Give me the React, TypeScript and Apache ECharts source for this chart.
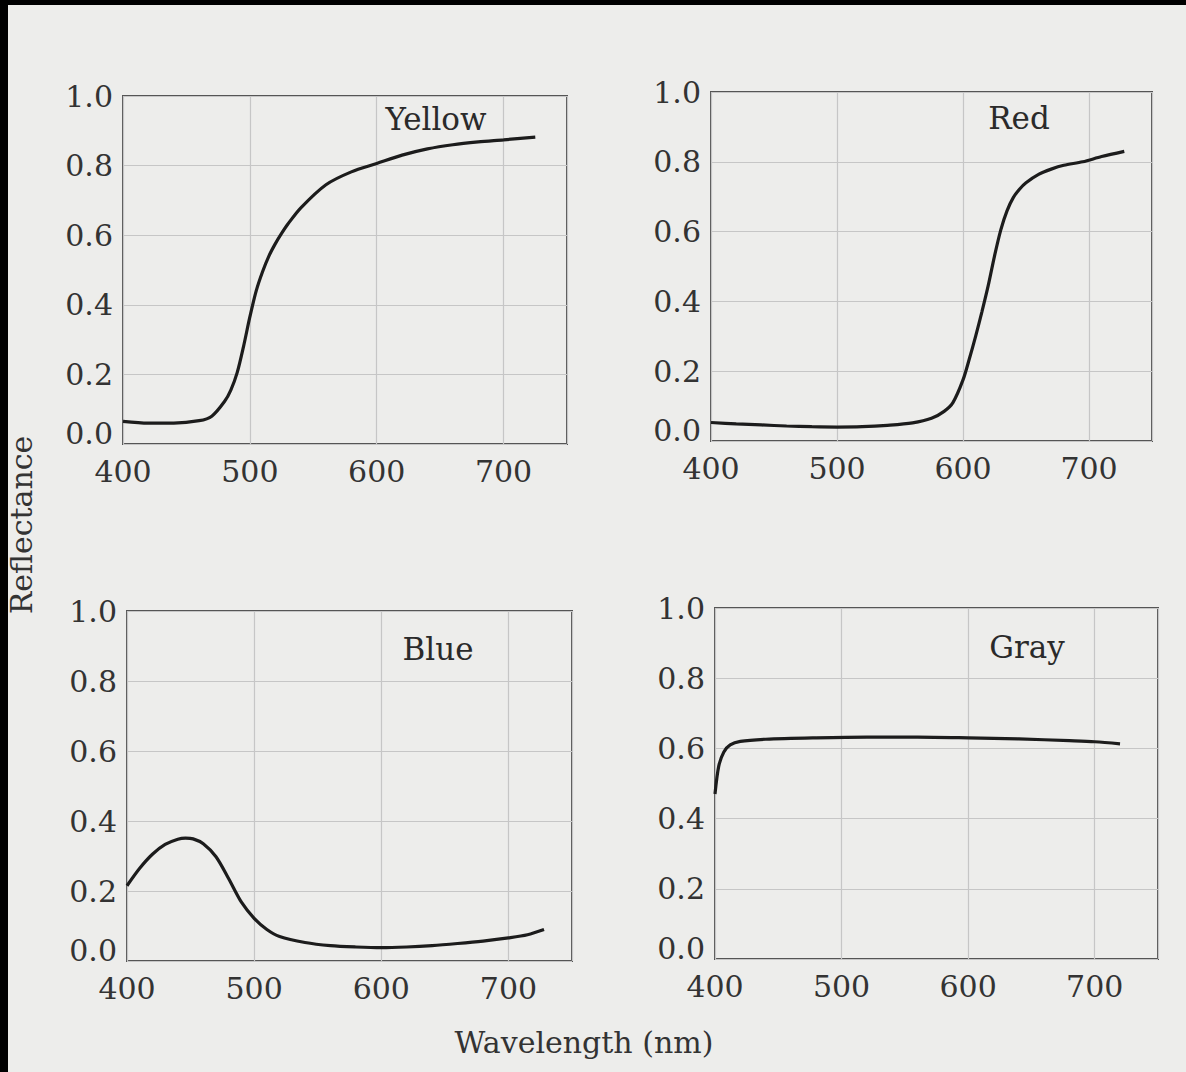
import React, { useEffect, useRef } from "react";
import * as echarts from "echarts";

const yellowWl = [400, 420, 440, 460, 470, 480, 485, 490, 495, 500, 505, 510, 515, 520, 525, 530, 540, 560, 580, 600, 620, 640, 660, 680, 700, 725];
const yellowVal = [0.065, 0.06, 0.06, 0.067, 0.08, 0.122, 0.155, 0.205, 0.28, 0.365, 0.44, 0.495, 0.54, 0.575, 0.605, 0.632, 0.678, 0.745, 0.782, 0.806, 0.83, 0.848, 0.86, 0.868, 0.874, 0.882];

const redWl = [400, 420, 440, 460, 480, 500, 520, 540, 560, 575, 585, 592, 600, 605, 610, 615, 620, 625, 630, 635, 640, 645, 650, 660, 670, 680, 695, 710, 728];
const redVal = [0.053, 0.049, 0.046, 0.043, 0.041, 0.04, 0.041, 0.045, 0.052, 0.065, 0.085, 0.11, 0.175, 0.235, 0.3, 0.37, 0.445, 0.53, 0.605, 0.66, 0.698, 0.722, 0.74, 0.764, 0.779, 0.79, 0.8, 0.815, 0.83];

const blueWl = [400, 410, 420, 430, 440, 446, 452, 460, 470, 480, 490, 500, 510, 520, 540, 560, 580, 600, 620, 640, 660, 680, 700, 715, 728];
const blueVal = [0.215, 0.265, 0.305, 0.333, 0.348, 0.351, 0.349, 0.335, 0.298, 0.235, 0.168, 0.122, 0.09, 0.07, 0.053, 0.044, 0.04, 0.038, 0.04, 0.044, 0.05, 0.057, 0.066, 0.075, 0.09];

const grayWl = [400, 403, 407, 412, 420, 440, 480, 520, 560, 600, 640, 680, 700, 720];
const grayVal = [0.47, 0.55, 0.59, 0.61, 0.62, 0.626, 0.63, 0.632, 0.632, 0.63, 0.627, 0.622, 0.619, 0.613];

const panelNames = ["Yellow", "Red", "Blue", "Gray"];
const xTicks = [400, 500, 600, 700];
const yTickLabels = ["0.0", "0.2", "0.4", "0.6", "0.8", "1.0"];

const FONT = "DejaVu Serif";
const TXT = "#333333";

function zip(w: number[], v: number[]) {
  return w.map((x, i) => [x, v[i]]);
}

export default function App() {
  const ref = useRef<HTMLDivElement>(null);
  useEffect(() => {
    if (!ref.current) return;
    const chart = echarts.init(ref.current, undefined, { renderer: "svg" });
    const grids = [
      { left: 123, top: 96, width: 444, height: 348 },
      { left: 711, top: 92, width: 441, height: 349 },
      { left: 127, top: 611, width: 445, height: 350 },
      { left: 715, top: 608, width: 443, height: 351 },
    ];
    const titlePos = [
      [436, 119],
      [1019, 118],
      [438, 649],
      [1027, 647],
    ];
    const datasets = [
      zip(yellowWl, yellowVal),
      zip(redWl, redVal),
      zip(blueWl, blueVal),
      zip(grayWl, grayVal),
    ];
    const option: any = {
      animation: false,
      backgroundColor: "#ededeb",
      grid: grids.map((g) => ({
        ...g,
        show: true,
        borderColor: "#555555",
        borderWidth: 2,
        backgroundColor: "transparent",
      })),
      xAxis: grids.map((_, i) => ({
        type: "value",
        gridIndex: i,
        min: 400,
        max: 750,
        interval: 100,
        axisLine: { show: false },
        axisTick: { show: false },
        splitLine: { show: true, lineStyle: { color: "#c6c6c6", width: 1.2 } },
        axisLabel: {
          margin: 12,
          fontFamily: FONT,
          fontSize: 30,
          color: TXT,
          formatter: (v: number) => (xTicks.indexOf(v) >= 0 ? String(v) : ""),
        },
      })),
      yAxis: grids.map((_, i) => ({
        type: "value",
        gridIndex: i,
        min: 0,
        max: 1,
        interval: 0.2,
        axisLine: { show: false },
        axisTick: { show: false },
        splitLine: { show: true, lineStyle: { color: "#c6c6c6", width: 1.2 } },
        axisLabel: {
          margin: 10,
          fontFamily: FONT,
          fontSize: 30,
          color: TXT,
          formatter: (v: number) => {
            const idx = Math.round(v * 5);
            const s = yTickLabels[idx] ?? v.toFixed(1);
            return idx === 0 ? "{z|" + s + "}" : s;
          },
          rich: {
            z: { fontFamily: FONT, fontSize: 30, color: TXT, padding: [0, 0, 22, 0] },
          },
        },
      })),
      series: datasets.map((d, i) => ({
        type: "line",
        xAxisIndex: i,
        yAxisIndex: i,
        data: d,
        smooth: 0.3,
        symbol: "none",
        lineStyle: { color: "#1c1c1c", width: 3.2 },
      })),
      graphic: [
        { type: "rect", shape: { x: 0, y: 0, width: 8, height: 1072 }, style: { fill: "#000" } },
        { type: "rect", shape: { x: 0, y: 0, width: 1186, height: 5 }, style: { fill: "#000" } },
        ...panelNames.map((n, i) => ({
          type: "text",
          x: titlePos[i][0],
          y: titlePos[i][1],
          style: {
            text: n,
            fontFamily: FONT,
            fontSize: 31,
            fill: "#2a2a2a",
            textAlign: "center",
            textVerticalAlign: "middle",
          },
        })),
        {
          type: "text",
          x: 584,
          y: 1042,
          style: {
            text: "Wavelength (nm)",
            fontFamily: FONT,
            fontSize: 30,
            fill: TXT,
            textAlign: "center",
            textVerticalAlign: "middle",
          },
        },
        {
          type: "text",
          x: 21,
          y: 525,
          rotation: Math.PI / 2,
          style: {
            text: "Reflectance",
            fontFamily: FONT,
            fontSize: 30,
            fill: TXT,
            textAlign: "center",
            textVerticalAlign: "middle",
          },
        },
      ],
    };
    chart.setOption(option);
    return () => chart.dispose();
  }, []);
  return (
    <div
      ref={ref}
      style={{ position: "absolute", left: 0, top: 0, width: 1186, height: 1072 }}
    />
  );
}
